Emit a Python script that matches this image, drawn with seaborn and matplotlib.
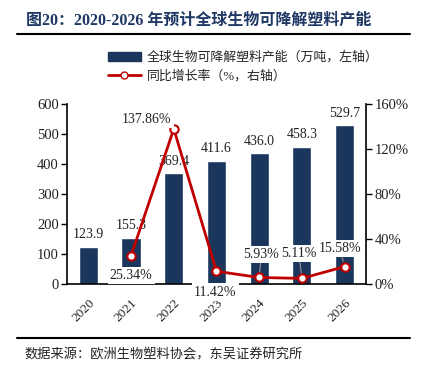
import matplotlib
matplotlib.use("Agg")
import matplotlib.pyplot as plt
import seaborn as sns
import pandas as pd
from matplotlib.lines import Line2D
from matplotlib.patches import Patch

sns.set_theme(style="white")
plt.rcParams['font.family'] = ['Liberation Serif', 'Noto Sans CJK SC', 'DejaVu Sans']

# data
years = ["2020", "2021", "2022", "2023", "2024", "2025", "2026"]
capacity = [123.9, 155.3, 369.4, 411.6, 436.0, 458.3, 529.7]
growth = [None, 25.34, 137.86, 11.42, 5.93, 5.11, 15.58]
growth_labels = ["", "25.34%", "137.86%", "11.42%", "5.93%", "5.11%", "15.58%"]
# where each growth label sits (x index, y in % on the right axis)
label_pos = [None, (1.0, 8), (1.37, 146.5), (2.97, -7), (4.05, 26), (4.93, 27.5), (5.89, 32)]

BAR_COLOR = "#1b365d"
LINE_COLOR = "#c00000"

df = pd.DataFrame({"year": years, "capacity": capacity, "growth": growth})

fig = plt.figure(figsize=(4.27, 3.7), dpi=100)
ax = fig.add_axes([0.157, 0.232, 0.700, 0.487])

sns.barplot(data=df, x="year", y="capacity", color=BAR_COLOR, width=0.45,
            saturation=1, ax=ax)
ax.bar_label(ax.containers[0], labels=[f"{v:.1f}" for v in capacity],
             padding=4, fontsize=10, color="#222222")
ax.set_ylim(0, 600)
ax.set_yticks(range(0, 601, 100))
ax.set_xlim(-0.5, 6.5)
ax.set_xlabel("")
ax.set_ylabel("")

ax2 = ax.twinx()
ax2.plot(range(1, 7), growth[1:], color=LINE_COLOR, lw=2, marker="o",
         markersize=6, markerfacecolor="white", markeredgecolor=LINE_COLOR,
         markeredgewidth=1.5, zorder=3)
ax2.set_ylim(0, 160)
ax2.set_yticks(range(0, 161, 40))
ax2.set_yticklabels([f"{v}%" for v in range(0, 161, 40)])

for i in range(1, 7):
    lx, ly = label_pos[i]
    arrow = None
    if i >= 4:
        arrow = dict(arrowstyle="-", color="#999999", lw=0.8, shrinkA=0, shrinkB=4)
    ax2.annotate(growth_labels[i], xy=(i, growth[i]), xytext=(lx, ly),
                 ha="center", va="center", fontsize=10, color="#222222",
                 bbox=dict(boxstyle="square,pad=0.15", fc="white", ec="none"),
                 arrowprops=arrow, annotation_clip=False, zorder=4)

for a in (ax, ax2):
    for s in a.spines.values():
        s.set_visible(False)
ax.spines["left"].set_visible(True)
ax.spines["bottom"].set_visible(True)
ax2.spines["right"].set_visible(True)
for s in (ax.spines["left"], ax.spines["bottom"], ax2.spines["right"]):
    s.set_color("black")
    s.set_linewidth(1.2)

ax.tick_params(axis="y", left=True, length=4, width=1, color="black",
               labelsize=10.5, labelcolor="#222222", pad=2)
ax.tick_params(axis="x", bottom=False, labelsize=9.5, labelcolor="#222222", pad=3)
ax2.tick_params(axis="y", right=True, length=4, width=1, color="black",
                labelsize=10.5, labelcolor="#222222", pad=2)
for t in ax.get_xticklabels():
    t.set_rotation(45)
    t.set_ha("right")
    t.set_rotation_mode("anchor")

handles = [Patch(color=BAR_COLOR),
           Line2D([0], [0], color=LINE_COLOR, lw=2, marker="o", markersize=5,
                  markerfacecolor="white", markeredgecolor=LINE_COLOR)]
fig.legend(handles, ["全球生物可降解塑料产能（万吨，左轴）", "同比增长率（%，右轴）"],
           loc="upper left", bbox_to_anchor=(0.24, 0.875), frameon=False,
           fontsize=9.3, handlelength=2.6, handleheight=0.6, labelspacing=0.45,
           borderaxespad=0, handletextpad=0.4)

fig.text(0.062, 0.945, "图20：2020-2026 年预计全球生物可降解塑料产能",
         fontsize=11.5, fontweight="bold", color="#1f3864", va="center")
fig.add_artist(Line2D([0.04, 0.96], [0.908, 0.908], color="black", lw=1.5))
fig.add_artist(Line2D([0.04, 0.96], [0.086, 0.086], color="black", lw=1.5))
fig.text(0.058, 0.040, "数据来源：欧洲生物塑料协会，东吴证券研究所",
         fontsize=9.5, color="#222222", va="center")

fig.savefig("out.png", dpi=100)
